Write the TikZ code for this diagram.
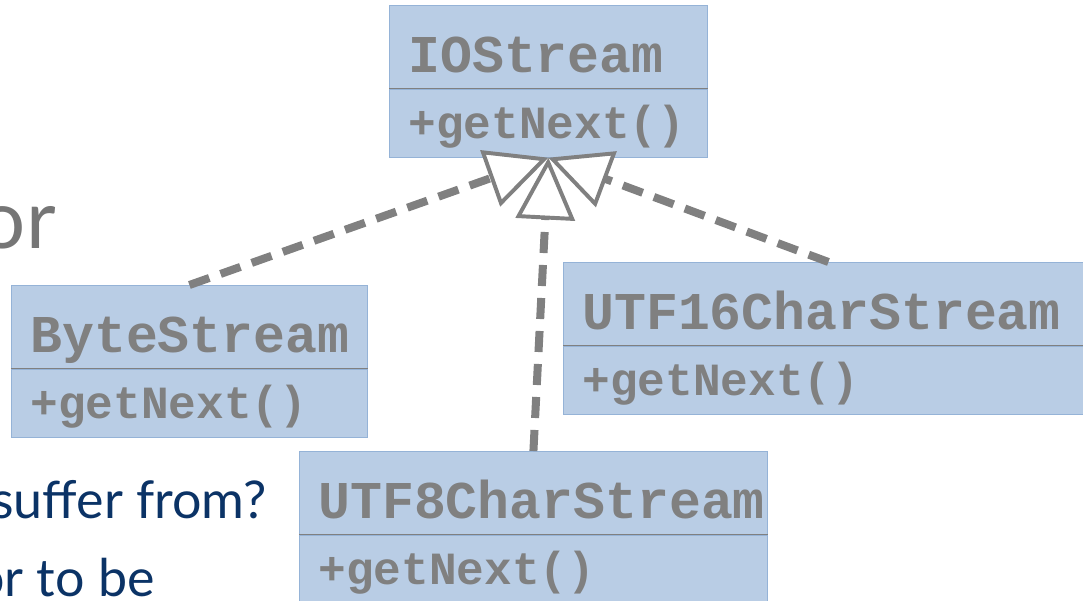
\documentclass[tikz,border=0pt]{standalone}
\usepackage{fontspec}
\setmainfont{Lato}
\setmonofont{Liberation Mono}
\usetikzlibrary{positioning,arrows.meta}
\definecolor{boxfill}{HTML}{B9CDE5}
\definecolor{boxline}{HTML}{95B3D7}
\definecolor{umlgray}{HTML}{808080}
\definecolor{slideblue}{HTML}{0B3366}
\definecolor{slidegray}{HTML}{767676}
\begin{document}
\begin{tikzpicture}[
  classname/.style={anchor=north west, draw=boxline, fill=boxfill, line width=0.6pt, text=umlgray,
    inner xsep=0.475cm, inner ysep=0pt, align=left, text height=1.675cm, text depth=0.4cm,
    font=\ttfamily\bfseries\fontsize{37.8}{40}\selectfont},
  classop/.style={below=0pt of #1, draw=boxline, fill=boxfill, line width=0.6pt, text=umlgray,
    inner xsep=0.475cm, inner ysep=0pt, align=left, text height=1.225cm, text depth=0.475cm,
    font=\ttfamily\bfseries\fontsize{32.8}{36}\selectfont},
  divider/.style={draw=umlgray, line width=0.6pt},
  realize/.style={draw=umlgray, line width=5.7pt, dash pattern=on 15pt off 8.5pt,
    -{Triangle[fill=white, length=44pt, width=42pt, line width=2.8pt]}},
  slidetext/.style={inner sep=0pt, anchor=base east}
]
\useasboundingbox (0,0) rectangle (27.075,15);
\clip (0,0) rectangle (27.075,15);
% slide text behind the diagram
\node[slidetext, text=slidegray, font=\fontsize{58}{70}\selectfont] (or) at (1.4,8.8) {or};
\node[slidetext, text=slideblue, font=\fontsize{37}{44}\selectfont] (q1) at (6.675,2.05) {suffer from?};
\node[slidetext, text=slideblue, font=\fontsize{37}{44}\selectfont] (q2) at (3.875,0.1) {or to be};
% classes
\node[classname, text width=7cm] (io) at (9.725,14.875) {IOStream};
\node[classop=io, text width=7cm] (iom) {+getNext()};
\node[classname, text width=7.95cm] (byte) at (0.275,7.875) {ByteStream};
\node[classop=byte, text width=7.95cm] (bytem) {+getNext()};
\node[classname, text width=12.3cm] (u16) at (14.075,8.45) {UTF16CharStream};
\node[classop=u16, text width=12.3cm] (u16m) {+getNext()};
\node[classname, text width=10.75cm] (u8) at (7.475,3.725) {UTF8CharStream};
\node[classop=u8, text width=10.75cm] (u8m) {+getNext()};
\draw[divider] (io.south west) -- (io.south east);
\draw[divider] (byte.south west) -- (byte.south east);
\draw[divider] (u16.south west) -- (u16.south east);
\draw[divider] (u8.south west) -- (u8.south east);
% realizations
\draw[realize] (byte.north) -- (iom.south);
\draw[realize] (u16.north) -- (iom.south);
\draw[realize] (u8.north) -- (iom.south);
\end{tikzpicture}
\end{document}
